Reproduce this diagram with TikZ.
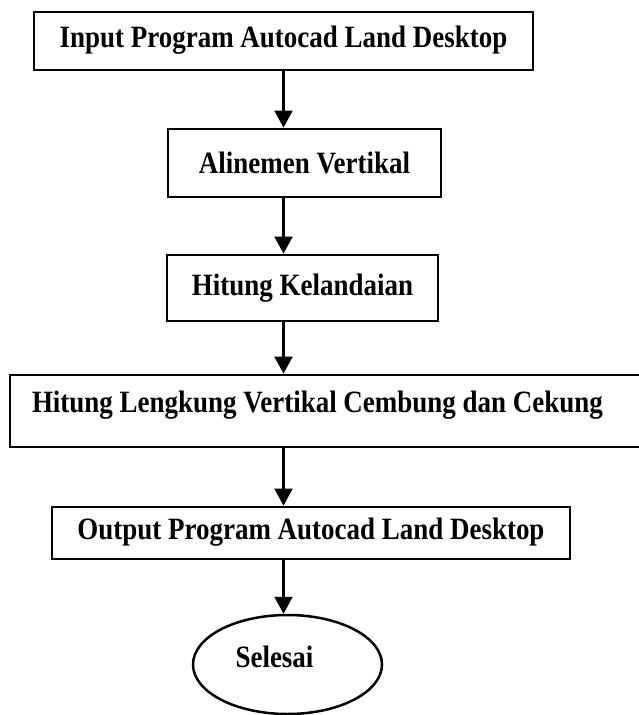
\documentclass[tikz,border=0pt]{standalone}
\usepackage{fontspec}
\setmainfont{Liberation Serif}
\newfontfamily\sempit[FakeStretch=0.87]{Liberation Serif}
\usetikzlibrary{arrows.meta, positioning, shapes.geometric}

\begin{document}
\begin{tikzpicture}[
  x=1pt, y=-1pt,
  proses/.style={draw, line width=2.8pt, font=\sempit\bfseries\fontsize{31}{36}\selectfont, inner sep=0pt},
  akhir/.style={draw, ellipse, line width=2.5pt, font=\sempit\bfseries\fontsize{31}{36}\selectfont, minimum width=189pt, minimum height=99pt, inner sep=0pt},
  panah/.style={draw, line width=2.2pt, -{Triangle[length=17pt, width=18pt]}}
]
\useasboundingbox (0,0) rectangle (639,715);

\node[proses, minimum width=499pt, minimum height=58pt, text depth=9pt] (input) at (283.5,41) {Input Program Autocad Land Desktop};
\node[proses, minimum width=273pt, minimum height=68pt] (alinemen) at (304.5,163) {Alinemen Vertikal};
\node[proses, minimum width=271pt, minimum height=66pt] (kelandaian) at (302.5,288) {Hitung Kelandaian};
\node[proses, minimum width=640pt, minimum height=72pt, text width=596pt, align=flush left, inner xsep=22pt, text depth=19pt] (lengkung) at (330,411) {Hitung Lengkung Vertikal Cembung dan Cekung};
\node[proses, minimum width=518pt, minimum height=52pt, text height=20pt] (output) at (311,533) {Output Program Autocad Land Desktop};
\node[akhir, text depth=16pt] (selesai) at (287.5,664.5) {Selesai\hspace*{26pt}};

% connectors
\draw[panah] (input.south) -- (input.south |- alinemen.north);
\draw[panah] (input.south |- alinemen.south) -- (input.south |- kelandaian.north);
\draw[panah] (input.south |- kelandaian.south) -- (input.south |- lengkung.north);
\draw[panah] (input.south |- lengkung.south) -- (input.south |- output.north);
\draw[panah] (input.south |- output.south) -- (input.south |- selesai.north);
\end{tikzpicture}
\end{document}
